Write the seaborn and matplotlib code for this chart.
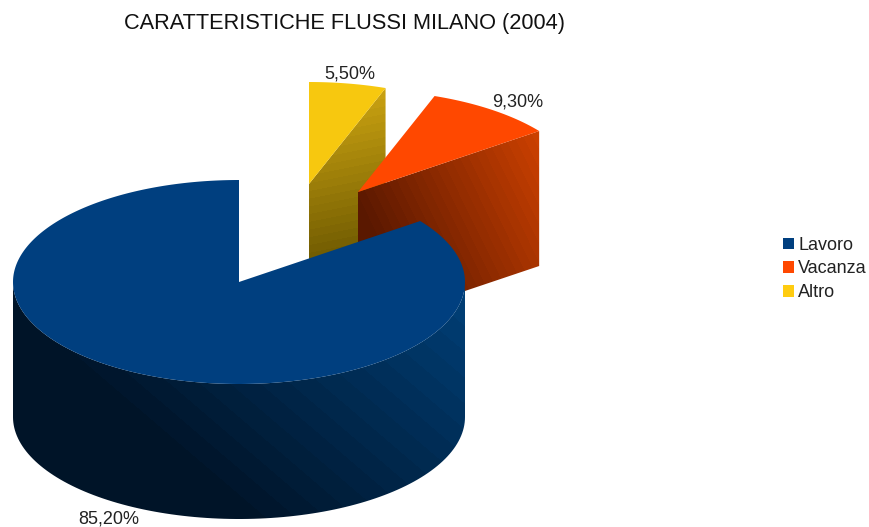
import numpy as np
import matplotlib
matplotlib.use("Agg")
import matplotlib.pyplot as plt
from matplotlib.patches import Patch, Polygon
import seaborn as sns

categories = ["Lavoro", "Vacanza", "Altro"]
values = [85.2, 9.3, 5.5]
value_labels = ["85,20%", "9,30%", "5,50%"]
title = "CARATTERISTICHE FLUSSI MILANO (2004)"

sns.set_theme(style="white")
plt.rcParams["font.family"] = ["Liberation Sans", "DejaVu Sans"]

top_colors = ["#003f7f", "#ff4800", "#f7c80f"]
wall_dark = ["#001428", "#5a1800", "#6a5600"]
wall_light = ["#004078", "#d04200", "#cca412"]

# pie geometry, in pixels of the picture
rx, ry, depth = 226, 102, 135
centers = [(239, 282), (358, 192), (309, 184)]
label_pos = [(109, 519), (518, 102), (350, 74)]

fig = plt.figure(figsize=(8.69, 5.27), dpi=100)
ax = fig.add_axes([0, 0, 1, 1])
ax.set_xlim(0, 869)
ax.set_ylim(527, 0)
ax.axis("off")

# slices go counter clockwise starting from the top
sweeps = np.array(values) / sum(values) * 360
starts = 90 + np.concatenate([[0], np.cumsum(sweeps)[:-1]])


def rim(c, a0, a1, n=120):
    t = np.radians(np.linspace(a0, a1, n))
    return np.column_stack([c[0] + rx * np.cos(t), c[1] - ry * np.sin(t)])


def shaded(poly, shade, i, levels):
    # stepped gradient clipped to the wall, the original has visible bands
    xx, yy = np.meshgrid(np.arange(0, 869), np.arange(0, 527))
    z = np.floor(np.clip(shade(xx, yy), 0, 1) * levels) / levels
    cmap = sns.blend_palette([wall_dark[i], wall_light[i]], n_colors=64, as_cmap=True)
    im = ax.imshow(z, cmap=cmap, vmin=0, vmax=1, extent=(0, 869, 527, 0),
                   aspect="auto", interpolation="bilinear", zorder=i_z[i])
    im.set_clip_path(Polygon(poly, transform=ax.transData))


i_z = {2: 1, 1: 3, 0: 5}

# Altro, the back slice
c = centers[2]
a0 = starts[2]
p = rim(c, a0, a0, 1)[0]
shaded([c, p, (p[0], p[1] + depth), (c[0], c[1] + depth)],
       lambda x, y: 1 - (y - 90 - (386 - x) * 0.2) / 170, 2, 22)
ax.add_patch(Polygon(rim(c, a0, a0 + sweeps[2]).tolist() + [c], color=top_colors[2], lw=0, zorder=2))

# Vacanza
c = centers[1]
a0 = starts[1]
p = rim(c, a0, a0, 1)[0]
shaded([c, p, (p[0], p[1] + depth), (c[0], c[1] + depth)],
       lambda x, y: (x - 358) / 181 * 0.95 - (y - (192 - (x - 358) * 0.337)) / 135 * 0.3 + 0.05, 1, 24)
ax.add_patch(Polygon(rim(c, a0, a0 + sweeps[1]).tolist() + [c], color=top_colors[1], lw=0, zorder=4))

# Lavoro, front wall then the top
c = centers[0]
front = rim(c, 180, 360)
wall = np.vstack([front, (front + [0, depth])[::-1]])
shaded(wall, lambda x, y: (x * 0.65 - y * 0.76 + 240) / 314, 0, 16)
ax.add_patch(Polygon(rim(c, starts[0], starts[0] + sweeps[0], 300).tolist() + [c],
                     color=top_colors[0], lw=0, zorder=6))

for pos, txt in zip(label_pos, value_labels):
    ax.text(pos[0], pos[1], txt, ha="center", va="center", fontsize=13, color="#222222", zorder=7)

ax.text(345, 24, title, ha="center", va="center", fontsize=15.7, color="#111111")

handles = [Patch(facecolor=col, edgecolor="none", label=cat) for col, cat in zip(top_colors, categories)]
handles[2].set_facecolor("#ffcc10")
leg = ax.legend(handles=handles, loc="center left", bbox_to_anchor=(783 / 869, 1 - 269 / 527),
                frameon=False, fontsize=13, handlelength=0.62, handleheight=0.62,
                handletextpad=0.22, labelspacing=0.37, borderpad=0, borderaxespad=0,
                labelcolor="#222222")

fig.savefig("out.png", dpi=100, facecolor="white")
